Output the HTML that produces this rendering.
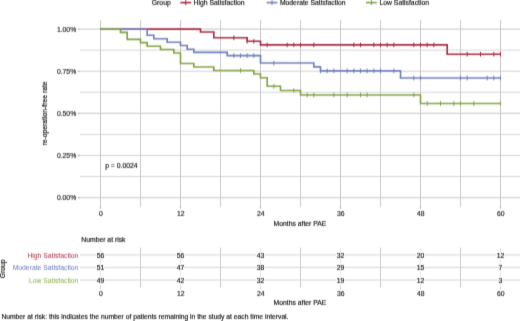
<!DOCTYPE html><html><head><meta charset="utf-8"><style>html,body{margin:0;padding:0;background:#fff;}svg{display:block;will-change:transform;}text{font-family:"Liberation Sans",sans-serif;stroke:currentColor;stroke-width:0.16px;}</style></head><body>
<svg width="520" height="321" viewBox="0 0 520 321">
<defs><filter id="bl" x="0" y="0" width="520" height="321" filterUnits="userSpaceOnUse" color-interpolation-filters="sRGB"><feConvolveMatrix order="3" kernelMatrix="0.0144 0.1512 0.0144 0.0512 0.5376 0.0512 0.0144 0.1512 0.0144" divisor="1" edgeMode="duplicate"/></filter></defs>
<rect width="520" height="321" fill="#fff"/><g filter="url(#bl)"><rect width="520" height="321" fill="#fff"/>
<line x1="80" x2="520" y1="176.54" y2="176.54" stroke="#D6D6D6" stroke-width="1.0"/><line x1="80" x2="520" y1="134.41" y2="134.41" stroke="#D6D6D6" stroke-width="1.0"/><line x1="80" x2="520" y1="92.29" y2="92.29" stroke="#D6D6D6" stroke-width="1.0"/><line x1="80" x2="520" y1="50.16" y2="50.16" stroke="#D6D6D6" stroke-width="1.0"/><line x1="140.50" x2="140.50" y1="20.2" y2="206.7" stroke="#CACACA" stroke-width="1"/><line x1="220.50" x2="220.50" y1="20.2" y2="206.7" stroke="#CACACA" stroke-width="1"/><line x1="300.50" x2="300.50" y1="20.2" y2="206.7" stroke="#CACACA" stroke-width="1"/><line x1="380.50" x2="380.50" y1="20.2" y2="206.7" stroke="#CACACA" stroke-width="1"/><line x1="460.50" x2="460.50" y1="20.2" y2="206.7" stroke="#CACACA" stroke-width="1"/><line x1="80" x2="520" y1="197.60" y2="197.60" stroke="#D0D0D0" stroke-width="1.1"/><line x1="80" x2="520" y1="155.47" y2="155.47" stroke="#D0D0D0" stroke-width="1.1"/><line x1="80" x2="520" y1="113.35" y2="113.35" stroke="#D0D0D0" stroke-width="1.1"/><line x1="80" x2="520" y1="71.22" y2="71.22" stroke="#D0D0D0" stroke-width="1.1"/><line x1="80" x2="520" y1="29.10" y2="29.10" stroke="#D0D0D0" stroke-width="1.1"/><line x1="100.50" x2="100.50" y1="20.2" y2="206.7" stroke="#C6C6C6" stroke-width="1"/><line x1="180.50" x2="180.50" y1="20.2" y2="206.7" stroke="#C6C6C6" stroke-width="1"/><line x1="260.50" x2="260.50" y1="20.2" y2="206.7" stroke="#C6C6C6" stroke-width="1"/><line x1="340.50" x2="340.50" y1="20.2" y2="206.7" stroke="#C6C6C6" stroke-width="1"/><line x1="420.50" x2="420.50" y1="20.2" y2="206.7" stroke="#C6C6C6" stroke-width="1"/><line x1="500.50" x2="500.50" y1="20.2" y2="206.7" stroke="#C6C6C6" stroke-width="1"/>
<line x1="77.8" x2="80" y1="197.60" y2="197.60" stroke="#7a7a7a" stroke-width="0.7"/><line x1="77.8" x2="80" y1="155.47" y2="155.47" stroke="#7a7a7a" stroke-width="0.7"/><line x1="77.8" x2="80" y1="113.35" y2="113.35" stroke="#7a7a7a" stroke-width="0.7"/><line x1="77.8" x2="80" y1="71.22" y2="71.22" stroke="#7a7a7a" stroke-width="0.7"/><line x1="77.8" x2="80" y1="29.10" y2="29.10" stroke="#7a7a7a" stroke-width="0.7"/><line x1="100.50" x2="100.50" y1="206.7" y2="208.50" stroke="#7a7a7a" stroke-width="0.7"/><line x1="180.50" x2="180.50" y1="206.7" y2="208.50" stroke="#7a7a7a" stroke-width="0.7"/><line x1="260.50" x2="260.50" y1="206.7" y2="208.50" stroke="#7a7a7a" stroke-width="0.7"/><line x1="340.50" x2="340.50" y1="206.7" y2="208.50" stroke="#7a7a7a" stroke-width="0.7"/><line x1="420.50" x2="420.50" y1="206.7" y2="208.50" stroke="#7a7a7a" stroke-width="0.7"/><line x1="500.50" x2="500.50" y1="206.7" y2="208.50" stroke="#7a7a7a" stroke-width="0.7"/>
<text x="76.2" y="31.85" font-size="6.8" text-anchor="end" fill="#222" color="#222">1.00%</text><text x="76.2" y="73.97" font-size="6.8" text-anchor="end" fill="#222" color="#222">0.75%</text><text x="76.2" y="116.10" font-size="6.8" text-anchor="end" fill="#222" color="#222">0.50%</text><text x="76.2" y="158.22" font-size="6.8" text-anchor="end" fill="#222" color="#222">0.25%</text><text x="76.2" y="200.35" font-size="6.8" text-anchor="end" fill="#222" color="#222">0.00%</text><text x="100.80" y="216.45" font-size="6.8" text-anchor="middle" fill="#222" color="#222">0</text><text x="180.80" y="216.45" font-size="6.8" text-anchor="middle" fill="#222" color="#222">12</text><text x="260.80" y="216.45" font-size="6.8" text-anchor="middle" fill="#222" color="#222">24</text><text x="340.80" y="216.45" font-size="6.8" text-anchor="middle" fill="#222" color="#222">36</text><text x="420.80" y="216.45" font-size="6.8" text-anchor="middle" fill="#222" color="#222">48</text><text x="500.80" y="216.45" font-size="6.8" text-anchor="middle" fill="#222" color="#222">60</text><text x="300" y="226.2" font-size="6.8" text-anchor="middle" fill="#111" color="#111">Months after PAE</text><text transform="translate(46.6,113.5) rotate(-90)" x="0" y="0" font-size="6.8" text-anchor="middle" fill="#111" color="#111">re-operation-free rate</text><text x="105.2" y="167.8" font-size="6.8" fill="#111" color="#111">p = 0.0024</text>
<path d="M100.50,29.10H200.50V32.00H213.83V37.80H247.17V41.30H260.50V44.90H447.17V54.20H500.50" fill="none" stroke="#A8283F" stroke-width="1.6"/><path d="M233.83,35.50V40.10M247.17,39.00V43.60M253.83,39.00V43.60M267.17,42.60V47.20M287.17,42.60V47.20M293.83,42.60V47.20M300.50,42.60V47.20M313.83,42.60V47.20M353.83,42.60V47.20M360.50,42.60V47.20M373.83,42.60V47.20M380.50,42.60V47.20M387.17,42.60V47.20M393.83,42.60V47.20M413.83,42.60V47.20M420.50,42.60V47.20M427.17,42.60V47.20M433.83,42.60V47.20M467.17,51.90V56.50M480.50,51.90V56.50M493.83,51.90V56.50M500.50,51.90V56.50" fill="none" stroke="#A8283F" stroke-width="1.0"/><path d="M100.50,29.10H147.17V35.30H153.83V38.70H167.17V42.30H180.50V45.50H187.17V49.30H193.83V52.40H227.17V55.60H260.50V63.00H313.83V66.90H320.50V70.90H400.50V78.00H500.50" fill="none" stroke="#6F7DBB" stroke-width="1.6"/><path d="M233.83,53.30V57.90M240.50,53.30V57.90M247.17,53.30V57.90M253.83,53.30V57.90M273.83,60.70V65.30M320.50,68.60V73.20M327.17,68.60V73.20M333.83,68.60V73.20M347.17,68.60V73.20M353.83,68.60V73.20M360.50,68.60V73.20M367.17,68.60V73.20M373.83,68.60V73.20M380.50,68.60V73.20M393.83,68.60V73.20M413.83,75.70V80.30M420.50,75.70V80.30M460.50,75.70V80.30M467.17,75.70V80.30M487.17,75.70V80.30M493.83,75.70V80.30M500.50,75.70V80.30" fill="none" stroke="#6F7DBB" stroke-width="1.0"/><path d="M100.50,29.10H120.50V32.40H127.17V39.40H140.50V42.60H147.17V46.30H160.50V49.50H173.83V53.00H180.50V63.50H193.83V67.00H213.83V70.50H253.83V74.00H260.50V77.80H267.17V86.30H280.50V90.50H300.50V95.00H420.50V103.50H500.50" fill="none" stroke="#80A243" stroke-width="1.6"/><path d="M240.50,68.20V72.80M273.83,84.00V88.60M293.83,88.20V92.80M307.17,92.70V97.30M313.83,92.70V97.30M333.83,92.70V97.30M347.17,92.70V97.30M360.50,92.70V97.30M367.17,92.70V97.30M413.83,92.70V97.30M427.17,101.20V105.80M440.50,101.20V105.80M453.83,101.20V105.80M460.50,101.20V105.80M473.83,101.20V105.80M500.50,101.20V105.80" fill="none" stroke="#80A243" stroke-width="1.0"/>
<text x="151.8" y="5.0" font-size="6.8" fill="#111" color="#111">Group</text><line x1="180.4" x2="191.2" y1="2.6" y2="2.6" stroke="#A8283F" stroke-width="1.6"/><line x1="185.80" x2="185.80" y1="0.3" y2="5.0" stroke="#A8283F" stroke-width="1.1"/><text x="193.6" y="5.0" font-size="6.8" fill="#111" color="#111">High Satisfaction</text><line x1="266.6" x2="277.4" y1="2.6" y2="2.6" stroke="#6F7DBB" stroke-width="1.6"/><line x1="272.00" x2="272.00" y1="0.3" y2="5.0" stroke="#6F7DBB" stroke-width="1.1"/><text x="279.9" y="5.0" font-size="6.8" fill="#111" color="#111">Moderate Satisfaction</text><line x1="366.0" x2="376.8" y1="2.6" y2="2.6" stroke="#80A243" stroke-width="1.6"/><line x1="371.40" x2="371.40" y1="0.3" y2="5.0" stroke="#80A243" stroke-width="1.1"/><text x="379.5" y="5.0" font-size="6.8" fill="#111" color="#111">Low Satisfaction</text>
<text x="81.3" y="241.5" font-size="6.8" fill="#111" color="#111">Number at risk</text><line x1="140.50" x2="140.50" y1="247.5" y2="287.7" stroke="#CACACA" stroke-width="1"/><line x1="220.50" x2="220.50" y1="247.5" y2="287.7" stroke="#CACACA" stroke-width="1"/><line x1="300.50" x2="300.50" y1="247.5" y2="287.7" stroke="#CACACA" stroke-width="1"/><line x1="380.50" x2="380.50" y1="247.5" y2="287.7" stroke="#CACACA" stroke-width="1"/><line x1="460.50" x2="460.50" y1="247.5" y2="287.7" stroke="#CACACA" stroke-width="1"/><line x1="80" x2="520" y1="254.9" y2="254.9" stroke="#D4D4D4" stroke-width="1.0"/><line x1="80" x2="520" y1="267.4" y2="267.4" stroke="#D4D4D4" stroke-width="1.0"/><line x1="80" x2="520" y1="280.1" y2="280.1" stroke="#D4D4D4" stroke-width="1.0"/><line x1="100.50" x2="100.50" y1="247.5" y2="287.7" stroke="#E6E6E6" stroke-width="1"/><line x1="180.50" x2="180.50" y1="247.5" y2="287.7" stroke="#E6E6E6" stroke-width="1"/><line x1="260.50" x2="260.50" y1="247.5" y2="287.7" stroke="#E6E6E6" stroke-width="1"/><line x1="340.50" x2="340.50" y1="247.5" y2="287.7" stroke="#E6E6E6" stroke-width="1"/><line x1="420.50" x2="420.50" y1="247.5" y2="287.7" stroke="#E6E6E6" stroke-width="1"/><line x1="500.50" x2="500.50" y1="247.5" y2="287.7" stroke="#E6E6E6" stroke-width="1"/><line x1="100.50" x2="100.50" y1="287.7" y2="288.70" stroke="#7a7a7a" stroke-width="0.7"/><line x1="180.50" x2="180.50" y1="287.7" y2="288.70" stroke="#7a7a7a" stroke-width="0.7"/><line x1="260.50" x2="260.50" y1="287.7" y2="288.70" stroke="#7a7a7a" stroke-width="0.7"/><line x1="340.50" x2="340.50" y1="287.7" y2="288.70" stroke="#7a7a7a" stroke-width="0.7"/><line x1="420.50" x2="420.50" y1="287.7" y2="288.70" stroke="#7a7a7a" stroke-width="0.7"/><line x1="500.50" x2="500.50" y1="287.7" y2="288.70" stroke="#7a7a7a" stroke-width="0.7"/><text x="78.4" y="257.65" font-size="6.8" text-anchor="end" fill="#AE3A55" color="#AE3A55" style="stroke-width:0.05px">High Satisfaction</text><text x="78.4" y="270.15" font-size="6.8" text-anchor="end" fill="#7482BE" color="#7482BE" style="stroke-width:0.05px">Moderate Satisfaction</text><text x="78.4" y="282.85" font-size="6.8" text-anchor="end" fill="#92B256" color="#92B256" style="stroke-width:0.05px">Low Satisfaction</text><text x="100.50" y="257.75" font-size="6.8" text-anchor="middle" fill="#fff" color="#fff" style="stroke-width:1.8px">56</text><text x="100.50" y="257.75" font-size="6.8" text-anchor="middle" fill="#111" color="#111">56</text><text x="180.50" y="257.75" font-size="6.8" text-anchor="middle" fill="#fff" color="#fff" style="stroke-width:1.8px">56</text><text x="180.50" y="257.75" font-size="6.8" text-anchor="middle" fill="#111" color="#111">56</text><text x="260.50" y="257.75" font-size="6.8" text-anchor="middle" fill="#fff" color="#fff" style="stroke-width:1.8px">43</text><text x="260.50" y="257.75" font-size="6.8" text-anchor="middle" fill="#111" color="#111">43</text><text x="340.50" y="257.75" font-size="6.8" text-anchor="middle" fill="#fff" color="#fff" style="stroke-width:1.8px">32</text><text x="340.50" y="257.75" font-size="6.8" text-anchor="middle" fill="#111" color="#111">32</text><text x="420.50" y="257.75" font-size="6.8" text-anchor="middle" fill="#fff" color="#fff" style="stroke-width:1.8px">20</text><text x="420.50" y="257.75" font-size="6.8" text-anchor="middle" fill="#111" color="#111">20</text><text x="500.50" y="257.75" font-size="6.8" text-anchor="middle" fill="#fff" color="#fff" style="stroke-width:1.8px">12</text><text x="500.50" y="257.75" font-size="6.8" text-anchor="middle" fill="#111" color="#111">12</text><text x="100.50" y="270.25" font-size="6.8" text-anchor="middle" fill="#fff" color="#fff" style="stroke-width:1.8px">51</text><text x="100.50" y="270.25" font-size="6.8" text-anchor="middle" fill="#111" color="#111">51</text><text x="180.50" y="270.25" font-size="6.8" text-anchor="middle" fill="#fff" color="#fff" style="stroke-width:1.8px">47</text><text x="180.50" y="270.25" font-size="6.8" text-anchor="middle" fill="#111" color="#111">47</text><text x="260.50" y="270.25" font-size="6.8" text-anchor="middle" fill="#fff" color="#fff" style="stroke-width:1.8px">38</text><text x="260.50" y="270.25" font-size="6.8" text-anchor="middle" fill="#111" color="#111">38</text><text x="340.50" y="270.25" font-size="6.8" text-anchor="middle" fill="#fff" color="#fff" style="stroke-width:1.8px">29</text><text x="340.50" y="270.25" font-size="6.8" text-anchor="middle" fill="#111" color="#111">29</text><text x="420.50" y="270.25" font-size="6.8" text-anchor="middle" fill="#fff" color="#fff" style="stroke-width:1.8px">15</text><text x="420.50" y="270.25" font-size="6.8" text-anchor="middle" fill="#111" color="#111">15</text><text x="500.50" y="270.25" font-size="6.8" text-anchor="middle" fill="#fff" color="#fff" style="stroke-width:1.8px">7</text><text x="500.50" y="270.25" font-size="6.8" text-anchor="middle" fill="#111" color="#111">7</text><text x="100.50" y="282.95" font-size="6.8" text-anchor="middle" fill="#fff" color="#fff" style="stroke-width:1.8px">49</text><text x="100.50" y="282.95" font-size="6.8" text-anchor="middle" fill="#111" color="#111">49</text><text x="180.50" y="282.95" font-size="6.8" text-anchor="middle" fill="#fff" color="#fff" style="stroke-width:1.8px">42</text><text x="180.50" y="282.95" font-size="6.8" text-anchor="middle" fill="#111" color="#111">42</text><text x="260.50" y="282.95" font-size="6.8" text-anchor="middle" fill="#fff" color="#fff" style="stroke-width:1.8px">32</text><text x="260.50" y="282.95" font-size="6.8" text-anchor="middle" fill="#111" color="#111">32</text><text x="340.50" y="282.95" font-size="6.8" text-anchor="middle" fill="#fff" color="#fff" style="stroke-width:1.8px">19</text><text x="340.50" y="282.95" font-size="6.8" text-anchor="middle" fill="#111" color="#111">19</text><text x="420.50" y="282.95" font-size="6.8" text-anchor="middle" fill="#fff" color="#fff" style="stroke-width:1.8px">12</text><text x="420.50" y="282.95" font-size="6.8" text-anchor="middle" fill="#111" color="#111">12</text><text x="500.50" y="282.95" font-size="6.8" text-anchor="middle" fill="#fff" color="#fff" style="stroke-width:1.8px">3</text><text x="500.50" y="282.95" font-size="6.8" text-anchor="middle" fill="#111" color="#111">3</text><text x="100.80" y="296.0" font-size="6.8" text-anchor="middle" fill="#222" color="#222">0</text><text x="180.80" y="296.0" font-size="6.8" text-anchor="middle" fill="#222" color="#222">12</text><text x="260.80" y="296.0" font-size="6.8" text-anchor="middle" fill="#222" color="#222">24</text><text x="340.80" y="296.0" font-size="6.8" text-anchor="middle" fill="#222" color="#222">36</text><text x="420.80" y="296.0" font-size="6.8" text-anchor="middle" fill="#222" color="#222">48</text><text x="500.80" y="296.0" font-size="6.8" text-anchor="middle" fill="#222" color="#222">60</text><text x="300" y="304.6" font-size="6.8" text-anchor="middle" fill="#111" color="#111">Months after PAE</text><text transform="translate(4.9,268.8) rotate(-90)" x="0" y="0" font-size="6.8" text-anchor="middle" fill="#111" color="#111">Group</text>
<text x="1.4" y="319.3" font-size="6.74" fill="#111" color="#111">Number at risk: this indicates the number of patients remaining in the study at each time interval.</text>
</g></svg></body></html>
